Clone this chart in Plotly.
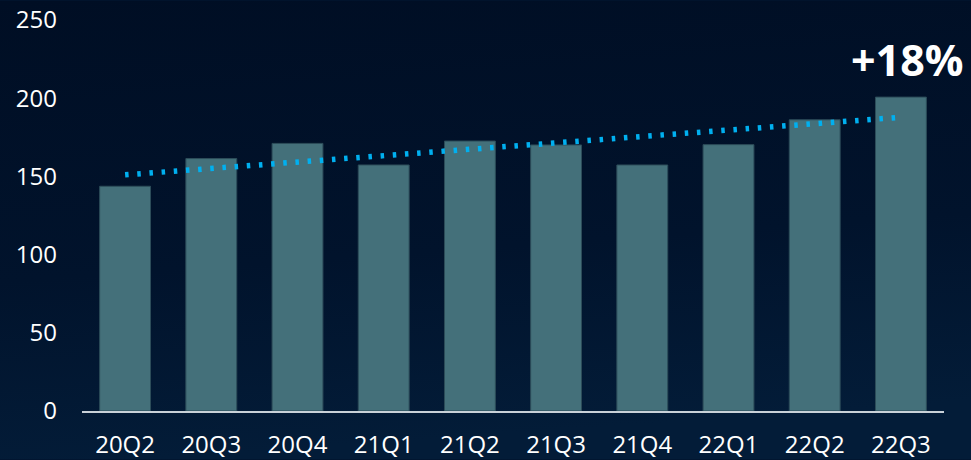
import plotly.graph_objects as go
import base64

categories = ["20Q2", "20Q3", "20Q4", "21Q1", "21Q2", "21Q3", "21Q4", "22Q1", "22Q2", "22Q3"]
values = [143.7, 161.4, 171.1, 157.3, 172.6, 170.1, 157.3, 170.3, 186.2, 200.7]
trend_x = ["20Q2", "22Q3"]
trend_y = [151.0, 187.8]
y_ticks = [0, 50, 100, 150, 200, 250]
growth_label = "+18%"

svg = ('<svg xmlns="http://www.w3.org/2000/svg" width="971" height="460">'
       '<defs><linearGradient id="g" x1="0" y1="0" x2="0.15" y2="1">'
       '<stop offset="0" stop-color="#000e24"/><stop offset="0.6" stop-color="#01132c"/>'
       '<stop offset="1" stop-color="#031c38"/></linearGradient></defs>'
       '<rect width="971" height="460" fill="url(#g)"/></svg>')
bg_src = "data:image/svg+xml;base64," + base64.b64encode(svg.encode()).decode()

L, R, T, B = 82, 944, 19.5, 411.5  # plot area in pixels
W, H = 971, 460

fig = go.Figure()
fig.add_trace(go.Bar(
    x=categories, y=values,
    marker=dict(color="#44707a", line=dict(color="#2d4d5a", width=1)),
    width=0.59, hoverinfo="x+y",
))
fig.add_trace(go.Scatter(
    x=trend_x, y=trend_y, mode="lines",
    line=dict(color="#00b0f0", width=5.5, dash="3.5px,8.7px"),
    hoverinfo="skip",
))

fig.add_annotation(
    x=(907 - L) / (R - L), y=(B - 59) / (B - T), xref="paper", yref="paper",
    text=growth_label, showarrow=False,
    font=dict(family="Open Sans", size=43, color="white", weight="bold"),
    xanchor="center", yanchor="middle",
)

fig.update_layout(
    width=W, height=H,
    margin=dict(l=L, r=W - R, t=T, b=H - B, pad=0),
    paper_bgcolor="#01142e", plot_bgcolor="rgba(0,0,0,0)",
    showlegend=False,
    font=dict(family="Open Sans", size=24, color="white"),
    images=[dict(source=bg_src, xref="paper", yref="paper", x=-L / (R - L), y=1 + T / (B - T),
                 sizex=W / (R - L), sizey=H / (B - T), sizing="stretch", layer="below",
                 xanchor="left", yanchor="top")],
    xaxis=dict(showline=True, linecolor="#c9d1d8", linewidth=2, showgrid=False,
               ticks="", ticklabelstandoff=11, automargin=False,
               tickfont=dict(size=24, color="white")),
    yaxis=dict(range=[0, 250], tickvals=y_ticks, showgrid=False, zeroline=False,
               showline=False, ticks="", ticklabelstandoff=24, automargin=False,
               tickfont=dict(size=24, color="white")),
)

fig.write_html("out.html", config={"displayModeBar": False},
               post_script="document.body.style.margin='0';document.body.style.background='#01142e';")
